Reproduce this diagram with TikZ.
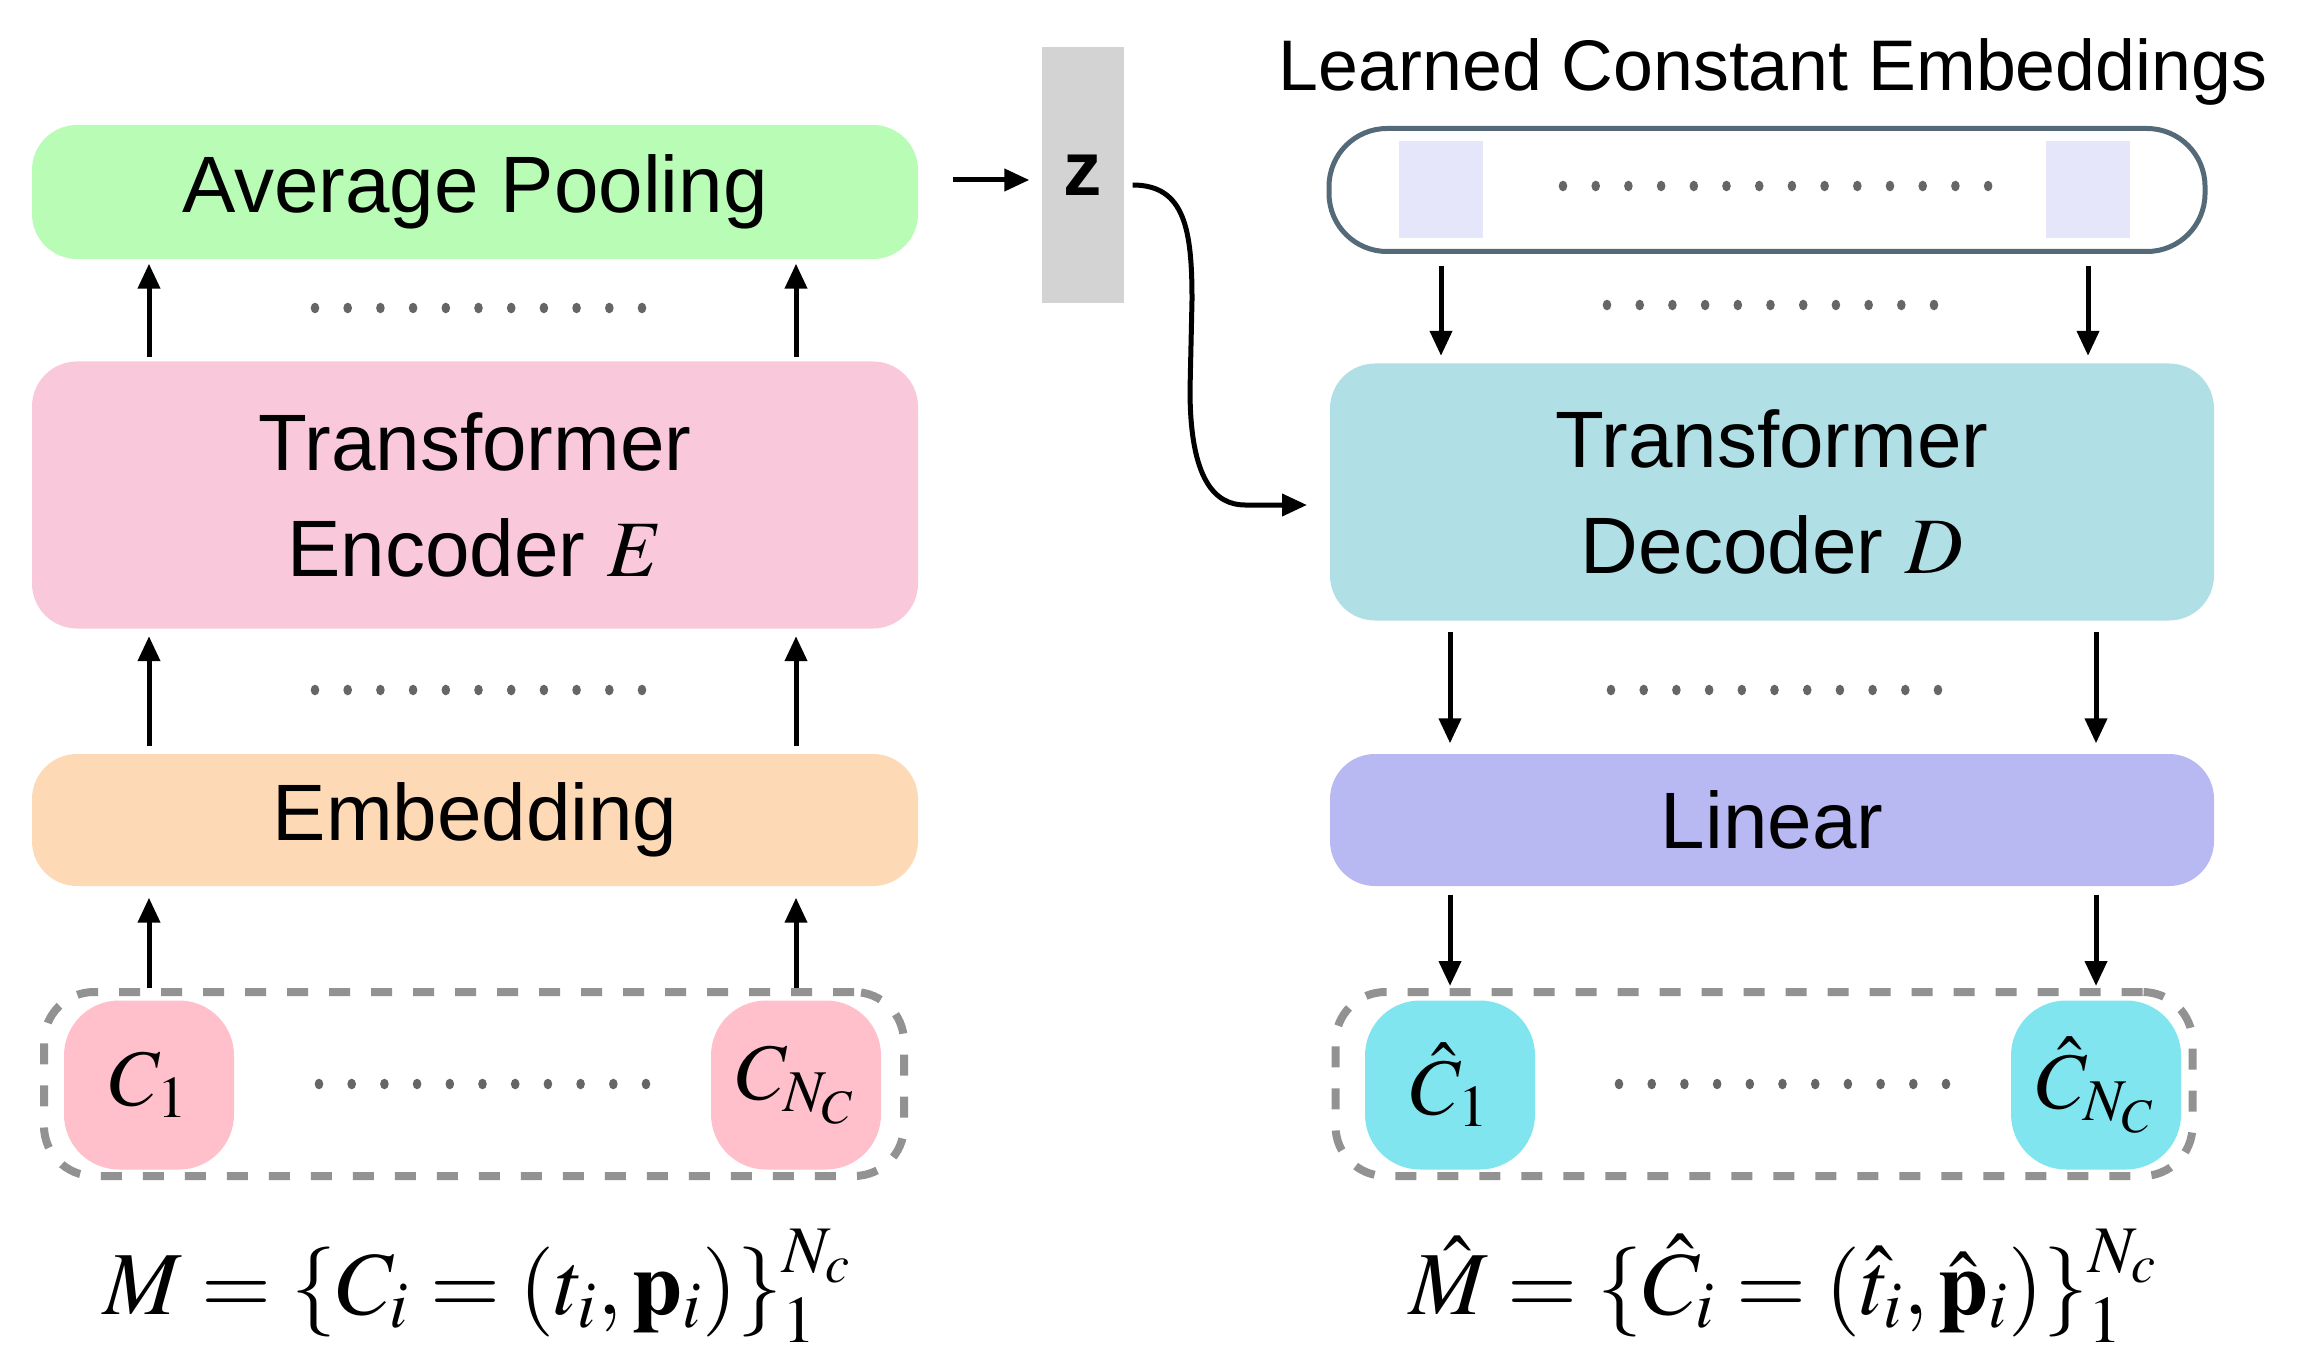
\documentclass[tikz,border=0pt]{standalone}
\usepackage{mathptmx}
\usepackage[no-math]{fontspec}
\setmainfont{Liberation Sans}
\usepackage{tikz}
\usetikzlibrary{arrows.meta}
\newlength\pxu
\setlength\pxu{0.3pt}
\definecolor{poolgreen}{HTML}{B8FCB6}
\definecolor{encpink}{HTML}{F9C8DA}
\definecolor{embpeach}{HTML}{FDD9B5}
\definecolor{decblue}{HTML}{B0DFE5}
\definecolor{linviolet}{HTML}{B8B8F2}
\definecolor{tokpink}{HTML}{FFC0CB}
\definecolor{tokcyan}{HTML}{80E5EF}
\definecolor{lavend}{HTML}{E6E6FA}
\definecolor{slateline}{HTML}{556A78}
\definecolor{dashgray}{HTML}{929292}
\definecolor{dotgray}{HTML}{666666}
\definecolor{zgray}{HTML}{D3D3D3}

\begin{document}
\begin{tikzpicture}[x=\pxu,y=-\pxu,
blk/.style n args={3}{fill=#1,rounded corners=45\pxu,minimum width=#2\pxu,minimum height=#3\pxu,inner sep=0pt,align=center,font=\fontsize{24}{32}\selectfont},
tok/.style={fill=#1,rounded corners=55\pxu,minimum width=170\pxu,minimum height=169\pxu,inner sep=0pt,font=\fontsize{24}{29}\selectfont},
grpbox/.style={draw=dashgray,line width=8\pxu,dash pattern=on 21\pxu off 21\pxu,rounded corners=50\pxu,minimum width=860\pxu,minimum height=184\pxu,inner sep=0pt},
arr/.style={-{Triangle[length=7.5pt,width=6.5pt]},line width=5\pxu},
formula/.style={font=\fontsize{27}{33}\selectfont}]
\useasboundingbox (0,0) rectangle (2297,1349);

% encoder side
\node[blk={poolgreen}{886}{134}] (avg) at (475,192) {Average Pooling};
\node[blk={encpink}{886}{267}] (enc) at (475,495) {Transformer\\Encoder $E$};
\node[blk={embpeach}{886}{132}] (emb) at (475,820) {Embedding};
\node[grpbox] (inl) at (474,1084) {};
\node[tok=tokpink] (c1) at (149,1085) {$C_1$};
\node[tok=tokpink] (cn) at (796,1085) {$C_{N_C}$};
\node[formula] (fin) at (478,1286) {$M = \{C_i = (t_i, \mathbf{p}_i)\}_1^{N_c}$};

% latent
\node[fill=zgray,minimum width=82\pxu,minimum height=256\pxu,inner sep=0pt,font=\fontsize{23}{28}\selectfont\bfseries] (z) at (1083,175) {z};
\coordinate (zin) at (1307,505);

% decoder side
\node[font=\fontsize{21.5}{26}\selectfont] (ttl) at (1773,72) {Learned Constant Embeddings};
\node[draw=slateline,line width=5\pxu,rounded corners=58\pxu,minimum width=876\pxu,minimum height=123\pxu,inner sep=0pt] (lce) at (1767,190) {};
\node[fill=lavend,minimum width=84\pxu,minimum height=97\pxu,inner sep=0pt] (q1) at (1441,190) {};
\node[fill=lavend,minimum width=84\pxu,minimum height=97\pxu,inner sep=0pt] (qn) at (2088,190) {};
\node[blk={decblue}{884}{257}] (dec) at (1772,492) {Transformer\\Decoder $D$};
\node[blk={linviolet}{884}{132}] (lin) at (1772,820) {Linear};
\node[grpbox,minimum width=857\pxu] (outl) at (1764,1084) {};
\node[tok=tokcyan] (h1) at (1450,1085) {$\hat{C}_1$};
\node[tok=tokcyan] (hn) at (2096,1085) {$\hat{C}_{N_C}$};
\node[formula] (fout) at (1784,1286) {$\hat{M} = \{\hat{C}_i = (\hat{t}_i, \hat{\mathbf{p}}_i)\}_1^{N_c}$};

% dotted rows
\foreach \xa/\y/\n in {315/308/10,315/690/10,319/1084/10,1563/186/13,1607/305/10,1611/690/10,1619/1084/10}
  \foreach \i in {0,...,\n}
    \fill[dotgray] (\xa+32.7*\i,\y) ellipse [x radius=4.3\pxu,y radius=5.3\pxu];

% arrows
\foreach \t in {c1,cn} {
  \draw[arr,shorten >=11\pxu] (inl.north -| \t) -- (emb.south -| \t);
  \draw[arr,shorten <=7\pxu,shorten >=7\pxu] (emb.north -| \t) -- (enc.south -| \t);
  \draw[arr,shorten <=4\pxu,shorten >=4\pxu] (enc.north -| \t) -- (avg.south -| \t);
}
\foreach \t in {q1,qn}
  \draw[arr,shorten <=12\pxu,shorten >=7\pxu] (lce.south -| \t) -- (dec.north -| \t);
\foreach \t in {h1,hn} {
  \draw[arr,shorten <=11\pxu,shorten >=10\pxu] (dec.south -| \t) -- (lin.north -| \t);
  \draw[arr,shorten <=8\pxu,shorten >=2\pxu] (lin.south -| \t) -- (outl.north -| \t);
}
\draw[arr,shorten <=34\pxu,shorten >=12\pxu] ([yshift=12\pxu]avg.east) -- ([yshift=12\pxu]z.west |- avg.east);
\draw[arr] ([xshift=8\pxu,yshift=-10\pxu]z.east) .. controls (1185,185) and (1192,230) .. (1192,300)
  -- (1190,390) .. controls (1190,480) and (1215,505) .. (1245,505) -- (zin);
\end{tikzpicture}
\end{document}
